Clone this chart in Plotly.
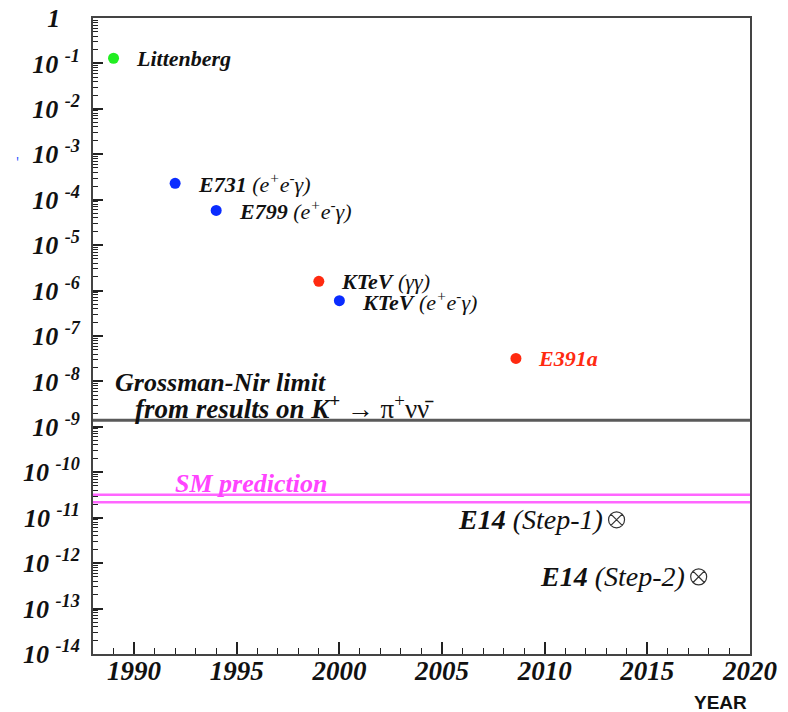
import numpy as np
import plotly.graph_objects as go

# ---- data ----
exp_names = ["Littenberg", "E731", "E799", "KTeV_gg", "KTeV_eeg", "E391a"]
exp_years = [1989.0, 1992.0, 1994.0, 1999.0, 2000.0, 2008.6]
exp_limits = [1.3e-1, 2.3e-4, 5.8e-5, 1.6e-6, 6.0e-7, 3.2e-8]
exp_colors = ["#22ee22", "#0a2cff", "#0a2cff", "#ff2a10", "#0a2cff", "#ff2a10"]
exp_labels = [
    "<b><i>Littenberg</i></b>",
    "<b><i>E731</i></b> <i>(e<sup>+</sup>e<sup>-</sup>γ)</i>",
    "<b><i>E799</i></b> <i>(e<sup>+</sup>e<sup>-</sup>γ)</i>",
    "<b><i>KTeV</i></b> <i>(γγ)</i>",
    "<b><i>KTeV</i></b> <i>(e<sup>+</sup>e<sup>-</sup>γ)</i>",
    "<b><i>E391a</i></b>",
]
exp_label_sizes = [22, 22, 22, 22, 22, 22]

e14_years = [2013.5, 2017.5]
e14_sens = [9.0e-12, 5.0e-13]
e14_labels = ["<b><i>E14</i></b> <i>(Step-1)</i>", "<b><i>E14</i></b> <i>(Step-2)</i>"]

gn_limit = 1.4e-9
sm_band = [2.2e-11, 3.2e-11]
x_range = [1988, 2020]

ytick_exps = list(range(0, -15, -1))
xtick_years = [1990, 1995, 2000, 2005, 2010, 2015, 2020]

SERIF = "Liberation Serif"
INK = "#111111"

fig = go.Figure()

# horizontal lines
fig.add_trace(go.Scatter(x=x_range, y=[gn_limit, gn_limit], mode="lines",
                         line=dict(color="#5a5a5a", width=3), hoverinfo="skip"))
for v in sm_band:
    fig.add_trace(go.Scatter(x=x_range, y=[v, v], mode="lines",
                             line=dict(color="#ff66ff", width=2.5), hoverinfo="skip"))

# experiment points
fig.add_trace(go.Scatter(x=exp_years, y=exp_limits, mode="markers",
                         marker=dict(color=exp_colors, size=11, line=dict(width=0)),
                         hoverinfo="skip"))

# E14 markers
fig.add_trace(go.Scatter(x=e14_years, y=e14_sens, mode="markers",
                         marker=dict(symbol="circle-x-open", color="#333333", size=16,
                                     line=dict(width=1.2, color="#333333")),
                         hoverinfo="skip"))

annotations = []
for yr, v, lab, sz in zip(exp_years, exp_limits, exp_labels, exp_label_sizes):
    annotations.append(dict(x=yr + 1.0, y=np.log10(v), xref="x", yref="y", text=lab,
                            showarrow=False, xanchor="left", yanchor="middle",
                            font=dict(family=SERIF, size=sz,
                                      color="#ff2a10" if "E391a" in lab else INK)))
for yr, v, lab in zip(e14_years, e14_sens, e14_labels):
    annotations.append(dict(x=yr - 0.57, y=np.log10(v), xref="x", yref="y", text=lab,
                            showarrow=False, xanchor="right", yanchor="middle",
                            font=dict(family=SERIF, size=28, color=INK)))

annotations.append(dict(x=1988.97, y=np.log10(gn_limit) + 0.84, xref="x", yref="y",
                        text="<b><i>Grossman-Nir limit</i></b>", showarrow=False,
                        xanchor="left", yanchor="middle",
                        font=dict(family=SERIF, size=26, color=INK)))
annotations.append(dict(x=1989.95, y=np.log10(gn_limit) + 0.29, xref="x", yref="y",
                        text="<b><i>from results on K<sup>+</sup></i></b> → π<sup>+</sup>νν̄",
                        showarrow=False, xanchor="left", yanchor="middle",
                        font=dict(family=SERIF, size=27, color=INK)))
annotations.append(dict(x=1991.9, y=np.log10(sm_band[1]) + 0.24, xref="x", yref="y",
                        text="<b><i>SM prediction</i></b>", showarrow=False,
                        xanchor="left", yanchor="middle",
                        font=dict(family=SERIF, size=26, color="#ff44ff")))
annotations.append(dict(x=720, y=702, xref="paper", yref="paper", text="<b>YEAR</b>",
                        showarrow=False, xanchor="center", yanchor="middle",
                        font=dict(family="Liberation Sans", size=19, color=INK)))
annotations.append(dict(x=14, y=150, xref="paper", yref="paper", text="'",
                        showarrow=False, font=dict(size=14, color="#1a4cff")))

W, H = 788, 712
ml, mr, mt, mb = 93, 38, 18, 58
for a in annotations[-2:]:
    a["x"] = (a["x"] - ml) / (W - ml - mr)
    a["y"] = 1 - (a["y"] - mt) / (H - mt - mb)

ytext = []
for e in ytick_exps:
    if e == 0:
        ytext.append("<b><i>1</i></b>\u00a0\u00a0\u00a0")
    else:
        ytext.append("<b><i>10\u00a0<sup>%d</sup></i></b>" % e)

minor_vals = [k * 10.0 ** e for e in range(-14, 0) for k in range(2, 10)]

fig.update_layout(
    width=W, height=H,
    margin=dict(l=ml, r=mr, t=mt, b=mb),
    paper_bgcolor="white", plot_bgcolor="white",
    showlegend=False,
    annotations=annotations,
    xaxis=dict(range=x_range, tickmode="array", tickvals=xtick_years,
               ticktext=["<b><i>%d</i></b>" % y for y in xtick_years],
               ticks="inside", ticklen=12, tickwidth=1.5, tickcolor="#222222",
               minor=dict(ticks="inside", ticklen=6, dtick=1, tick0=1988,
                          tickcolor="#222222", tickwidth=1.2, showgrid=False),
               showline=True, linecolor="#444444", linewidth=2, mirror=True,
               showgrid=False, zeroline=False, automargin=False,
               ticklabelstandoff=-8,
               tickfont=dict(family=SERIF, size=27, color=INK)),
    yaxis=dict(type="log", range=[-14, 0], tickmode="array",
               tickvals=[10.0 ** e for e in ytick_exps], ticktext=ytext,
               ticks="inside", ticklen=10, tickwidth=1.5, tickcolor="#222222",
               minor=dict(ticks="inside", ticklen=5, tickmode="array", tickvals=minor_vals,
                          tickcolor="#222222", tickwidth=1, showgrid=False),
               showline=True, linecolor="#444444", linewidth=2, mirror=True,
               showgrid=False, zeroline=False, ticklabelstandoff=6, automargin=False,
               tickfont=dict(family=SERIF, size=26, color=INK)),
)

fig.write_html("out.html")
